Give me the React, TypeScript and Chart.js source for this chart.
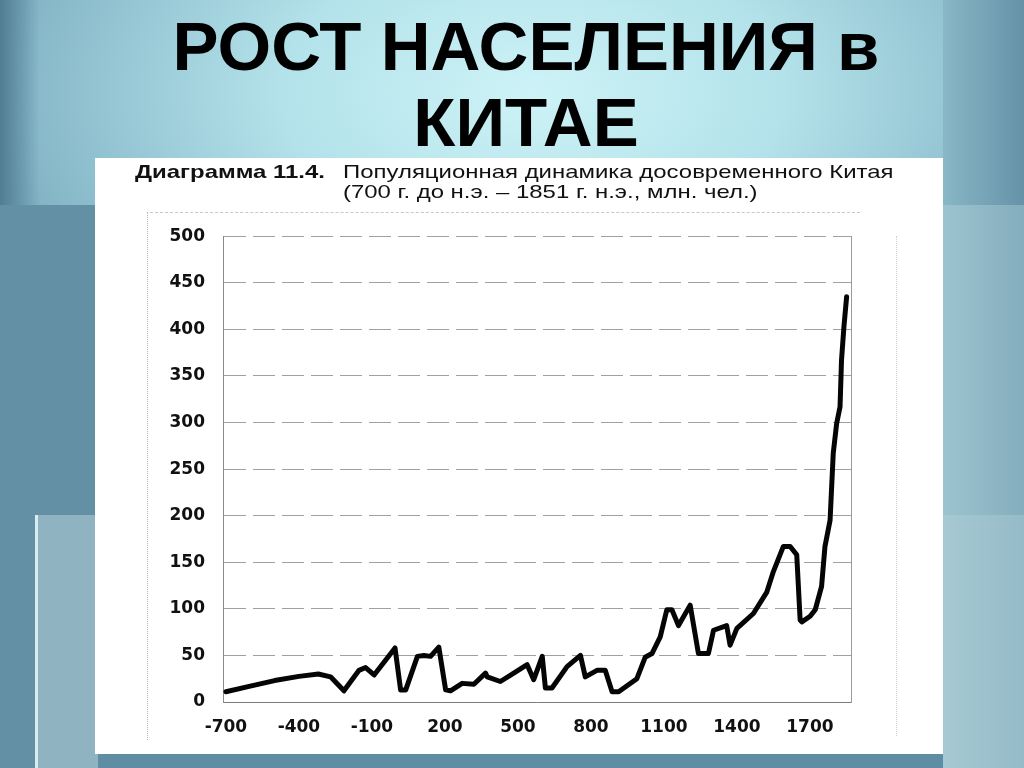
import React, { useEffect, useRef } from "react";
import { Chart, registerables } from "chart.js";

Chart.register(...registerables);

// Years (negative = BC) and population, million people
const years = [-700, -600, -500, -400, -320, -270, -215, -153, -126, -91, -5, 18, 39, 87, 114, 141, 175, 203, 223, 271, 319, 367, 374, 428, 483, 538, 565, 600, 613, 640, 702, 757, 777, 825, 859, 887, 914, 989, 1023, 1051, 1085, 1112, 1133, 1160, 1208, 1242, 1283, 1304, 1358, 1372, 1400, 1468, 1523, 1550, 1591, 1619, 1646, 1660, 1667, 1701, 1722, 1748, 1762, 1783, 1796, 1810, 1824, 1830, 1840, 1851];
const population = [11, 17, 23, 27.5, 30, 27, 12, 34, 37, 29, 58, 13, 13, 49, 50, 49, 59, 13, 12, 20, 19, 31, 27, 22, 31, 40, 24, 49, 15, 15, 38, 50, 27, 34, 34, 11, 11, 25, 48, 52, 70, 99, 99, 82, 104, 52, 52, 77, 82, 61, 79, 95, 118, 140, 167, 167, 158, 88, 86, 92, 99, 124, 167, 195, 267, 299, 317, 367, 403, 435];

const xTickValues = [-700, -400, -100, 200, 500, 800, 1100, 1400, 1700];
const yMin = 0;
const yMax = 500;
const yStep = 50;

const titleLine1 = "РОСТ НАСЕЛЕНИЯ в";
const titleLine2 = "КИТАЕ";
const captionLabel = "Диаграмма 11.4.";
const captionLine1 = "Популяционная динамика досовременного Китая";
const captionLine2 = "(700 г. до н.э. – 1851 г. н.э., млн. чел.)";

function PopulationChart() {
  const ref = useRef<HTMLCanvasElement | null>(null);
  useEffect(() => {
    if (!ref.current) return;
    const tickFont = { family: "'DejaVu Sans', sans-serif", size: 17, weight: "bold" as const };
    const chart = new Chart(ref.current, {
      type: "line",
      data: {
        datasets: [
          {
            data: years.map((yr, i) => ({ x: yr, y: population[i] })),
            borderColor: "#050505",
            borderWidth: 5,
            pointRadius: 0,
            tension: 0,
            borderJoinStyle: "round",
            borderCapStyle: "round",
          },
        ],
      },
      options: {
        animation: false,
        responsive: false,
        maintainAspectRatio: false,
        plugins: { legend: { display: false }, tooltip: { enabled: false } },
        layout: { padding: { top: 5, right: 29, bottom: 0, left: 0 } },
        scales: {
          x: {
            type: "linear",
            min: -712,
            max: 1869,
            afterBuildTicks: (s: any) => {
              s.ticks = xTickValues.map((v) => ({ value: v }));
            },
            afterFit: (s: any) => {
              s.height = 48;
            },
            grid: { display: false, drawTicks: false },
            border: { color: "#7a7a7a", width: 1 },
            ticks: {
              padding: 15,
              color: "#111",
              font: tickFont,
              autoSkip: false,
              maxRotation: 0,
              callback: (v: any) => String(v),
            },
          },
          y: {
            min: yMin,
            max: yMax,
            afterFit: (s: any) => {
              s.width = 103;
            },
            grid: { color: "#a0a0a0", lineWidth: 1, drawTicks: false },
            border: { color: "#8a8a8a", width: 1, dash: [22, 7] },
            ticks: { stepSize: yStep, padding: 18, color: "#111", font: tickFont, callback: (v: any) => String(v) },
          },
          y2: {
            position: "right",
            min: yMin,
            max: yMax,
            afterFit: (s: any) => {
              s.width = 0;
            },
            grid: { display: false, drawTicks: false },
            border: { color: "#9a9a9a", width: 1 },
            ticks: { display: false },
          },
        },
      },
    });
    return () => chart.destroy();
  }, []);
  return <canvas ref={ref} width={760} height={542} style={{ position: "absolute", left: 120, top: 208, width: 760, height: 542 }} />;
}

export default function App() {
  const titleStyle: React.CSSProperties = {
    position: "absolute",
    left: 0,
    width: 1052,
    textAlign: "center",
    fontFamily: "'Liberation Sans', Arial, sans-serif",
    fontWeight: "bold",
    fontSize: 69,
    lineHeight: "69px",
    color: "#000",
    whiteSpace: "nowrap",
  };
  const capStyle: React.CSSProperties = {
    position: "absolute",
    fontFamily: "'Liberation Sans', Arial, sans-serif",
    fontSize: 19,
    lineHeight: "20px",
    color: "#111",
    whiteSpace: "nowrap",
    transform: "scaleX(1.26)",
    transformOrigin: "left top",
  };
  return (
    <div
      style={{
        position: "fixed",
        left: 0,
        top: 0,
        width: 1024,
        height: 768,
        overflow: "hidden",
        background:
          "radial-gradient(ellipse 70% 55% at 52% 12%, #cdf3f7 0%, #b3e2ea 35%, #88b9c9 70%, #5f8ea4 100%)",
      }}
    >
      <div style={{ position: "absolute", left: 0, top: 0, width: 40, height: 768, background: "linear-gradient(90deg, #507d94, rgba(80,125,148,0))" }} />
      <div style={{ position: "absolute", left: 0, top: 205, width: 95, height: 563, background: "#6390a5" }} />
      <div style={{ position: "absolute", left: 35, top: 515, width: 60, height: 253, background: "#8fb3c1", borderLeft: "3px solid #d8ecf1" }} />
      <div style={{ position: "absolute", left: 943, top: 0, width: 81, height: 205, background: "linear-gradient(90deg, #8ab7c6, #6592a7)" }} />
      <div style={{ position: "absolute", left: 943, top: 205, width: 81, height: 310, background: "linear-gradient(90deg, #9cc3cf, #84adbd)" }} />
      <div style={{ position: "absolute", left: 943, top: 515, width: 81, height: 253, background: "linear-gradient(90deg, #a6c9d3, #95bbc8)" }} />
      <div style={{ ...titleStyle, top: 12 }}>{titleLine1}</div>
      <div style={{ ...titleStyle, top: 88 }}>{titleLine2}</div>
      <div style={{ position: "absolute", left: 95, top: 158, width: 848, height: 596, background: "#fff" }} />
      <div style={{ position: "absolute", left: 150, top: 212, width: 710, height: 0, borderTop: "1px dashed #c8c8c8" }} />
      <div style={{ position: "absolute", left: 147, top: 212, width: 0, height: 528, borderLeft: "1px dotted #b8b8b8" }} />
      <div style={{ position: "absolute", left: 896, top: 236, width: 0, height: 500, borderLeft: "1px dotted #d0d0d0" }} />
      <div style={{ ...capStyle, left: 135, top: 162, fontWeight: "bold" }}>{captionLabel}</div>
      <div style={{ ...capStyle, left: 343, top: 162 }}>
        {captionLine1}
        <br />
        {captionLine2}
      </div>
      <PopulationChart />
    </div>
  );
}
